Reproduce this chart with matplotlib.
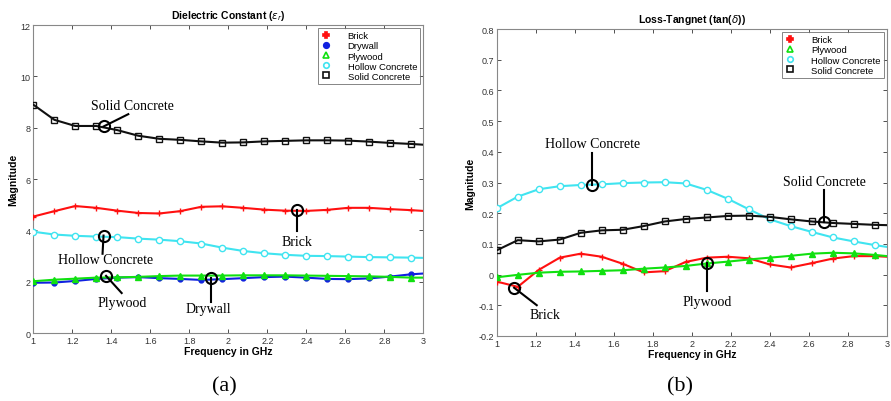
import numpy as np
import matplotlib
matplotlib.use('Agg')
import matplotlib.pyplot as plt
from matplotlib.lines import Line2D
from matplotlib.ticker import FuncFormatter, MultipleLocator

# frequency samples (GHz); last one is the axis end, no marker drawn there
freq = [1.0, 1.108, 1.215, 1.323, 1.43, 1.538, 1.646, 1.753, 1.861, 1.968,
        2.076, 2.184, 2.291, 2.399, 2.506, 2.614, 2.722, 2.829, 2.937, 3.0]

# (a) dielectric constant
eps_brick = [4.54, 4.75, 4.95, 4.88, 4.77, 4.68, 4.66, 4.75, 4.92, 4.94,
             4.88, 4.81, 4.77, 4.76, 4.80, 4.88, 4.88, 4.83, 4.79, 4.76]
eps_drywall = [1.96, 1.97, 2.03, 2.11, 2.16, 2.18, 2.14, 2.11, 2.07, 2.10,
               2.14, 2.18, 2.20, 2.16, 2.11, 2.10, 2.13, 2.20, 2.29, 2.32]
eps_plywood = [2.02, 2.08, 2.12, 2.16, 2.17, 2.19, 2.22, 2.24, 2.24, 2.24,
               2.25, 2.25, 2.25, 2.24, 2.23, 2.22, 2.21, 2.19, 2.16, 2.16]
eps_hollow = [3.95, 3.84, 3.79, 3.76, 3.74, 3.68, 3.64, 3.58, 3.49, 3.33,
              3.20, 3.11, 3.05, 3.01, 3.00, 2.98, 2.96, 2.95, 2.94, 2.93]
eps_solid = [8.90, 8.31, 8.07, 8.07, 7.91, 7.69, 7.57, 7.53, 7.47, 7.42,
             7.43, 7.47, 7.49, 7.51, 7.51, 7.50, 7.46, 7.41, 7.37, 7.34]

# (b) loss tangent
tan_brick = [-0.023, -0.040, 0.015, 0.055, 0.068, 0.058, 0.035, 0.007, 0.011, 0.041,
             0.055, 0.058, 0.053, 0.033, 0.023, 0.037, 0.052, 0.060, 0.060, 0.058]
tan_plywood = [-0.009, -0.001, 0.006, 0.009, 0.010, 0.012, 0.014, 0.019, 0.023, 0.028,
               0.036, 0.042, 0.049, 0.055, 0.061, 0.068, 0.071, 0.069, 0.064, 0.060]
tan_hollow = [0.216, 0.254, 0.278, 0.288, 0.292, 0.294, 0.298, 0.300, 0.301, 0.297,
              0.276, 0.247, 0.213, 0.180, 0.158, 0.139, 0.121, 0.108, 0.096, 0.090]
tan_solid = [0.079, 0.112, 0.108, 0.114, 0.136, 0.144, 0.146, 0.158, 0.173, 0.181,
             0.186, 0.191, 0.192, 0.188, 0.180, 0.173, 0.168, 0.165, 0.162, 0.161]

RED, BLUE, GREEN, CYAN, BLACK = '#ff1010', '#1020e0', '#10e010', '#40e4f0', '#101010'
STYLE = {
    'Brick': dict(color=RED, marker='+', mfc=RED, ms=5),
    'Drywall': dict(color=BLUE, marker='o', mfc=BLUE, ms=3.5),
    'Plywood': dict(color=GREEN, marker='^', mfc=GREEN, ms=4),
    'Hollow Concrete': dict(color=CYAN, marker='o', mfc='white', ms=4.5),
    'Solid Concrete': dict(color=BLACK, marker='s', mfc='none', ms=4),
}
LEG_STYLE = {
    'Brick': dict(marker='P', color=RED, mfc=RED),
    'Drywall': dict(marker='o', color=BLUE, mfc=BLUE),
    'Plywood': dict(marker='^', color=GREEN, mfc='none'),
    'Hollow Concrete': dict(marker='o', color=CYAN, mfc='none'),
    'Solid Concrete': dict(marker='s', color=BLACK, mfc='none'),
}

SERIF = 'Liberation Serif'
SANS = 'Liberation Sans'
fmt = FuncFormatter(lambda v, p: '%g' % round(v, 3))


def draw(ax, series, title, ylim, ystep):
    for name, vals in series:
        st = STYLE[name]
        ax.plot(freq, vals, color=st['color'], lw=1.5, marker=st['marker'],
                mfc=st['mfc'], mec=st['color'], ms=st['ms'], mew=1.0,
                markevery=list(range(len(freq) - 1)), zorder=3)
    ax.set_xlim(1, 3)
    ax.set_ylim(*ylim)
    ax.xaxis.set_major_locator(MultipleLocator(0.2))
    ax.yaxis.set_major_locator(MultipleLocator(ystep))
    ax.xaxis.set_major_formatter(fmt)
    ax.yaxis.set_major_formatter(fmt)
    ax.tick_params(direction='in', top=True, right=True, length=3, width=0.6,
                   labelsize=6.5, pad=2, colors='#333333')
    for lab in ax.get_xticklabels() + ax.get_yticklabels():
        lab.set_fontfamily(SANS)
    for s in ax.spines.values():
        s.set_color('#888888')
        s.set_linewidth(0.8)
    ax.set_title(title, fontsize=7.5, fontweight='bold', family=SANS, pad=5)
    ax.set_xlabel('Frequency in GHz', fontsize=7.5, fontweight='bold', family=SANS, labelpad=1)
    ax.set_ylabel('Magnitude', fontsize=7.5, fontweight='bold', family=SANS, labelpad=2)
    handles = [Line2D([], [], linestyle='none', ms=4, mew=1.2, mec=LEG_STYLE[n]['color'],
                      marker=LEG_STYLE[n]['marker'], mfc=LEG_STYLE[n]['mfc'], label=n)
               for n, _ in series]
    leg = ax.legend(handles=handles, loc='upper right', prop={'family': SANS, 'size': 6.8},
                    frameon=True, fancybox=False, borderpad=0.35, labelspacing=0.12,
                    handletextpad=1.8, handlelength=1.0, borderaxespad=0.3)
    leg.get_frame().set_edgecolor('#666666')
    leg.get_frame().set_linewidth(0.7)


def note(ax, text, circ, line_end, text_pos):
    ax.plot([circ[0], line_end[0]], [circ[1], line_end[1]], color='black', lw=1.5, zorder=4)
    ax.plot([circ[0]], [circ[1]], marker='o', ms=8, mfc='none', mec='black', mew=1.5, zorder=5)
    ax.text(text_pos[0], text_pos[1], text, family=SERIF, fontsize=10,
            ha='center', va='center', zorder=6)


fig = plt.figure(figsize=(8.91, 4.02), dpi=100)
ax1 = fig.add_axes([0.0374, 0.169, 0.4377, 0.766])
ax2 = fig.add_axes([0.5575, 0.162, 0.438, 0.763])

draw(ax1, [('Brick', eps_brick), ('Drywall', eps_drywall), ('Plywood', eps_plywood),
           ('Hollow Concrete', eps_hollow), ('Solid Concrete', eps_solid)],
     r'Dielectric Constant ($\epsilon_r$)', (0, 12), 2)
draw(ax2, [('Brick', tan_brick), ('Plywood', tan_plywood),
           ('Hollow Concrete', tan_hollow), ('Solid Concrete', tan_solid)],
     r'Loss-Tangnet (tan($\delta$))', (-0.2, 0.8), 0.1)

note(ax1, 'Solid Concrete', (1.36, 8.05), (1.487, 8.53), (1.51, 8.88))
note(ax1, 'Brick', (2.35, 4.80), (2.35, 3.99), (2.35, 3.56))
note(ax1, 'Hollow Concrete', (1.36, 3.80), (1.355, 3.09), (1.368, 2.85))
note(ax1, 'Plywood', (1.373, 2.23), (1.453, 1.56), (1.458, 1.18))
note(ax1, 'Drywall', (1.913, 2.14), (1.913, 1.21), (1.897, 0.95))

note(ax2, 'Hollow Concrete', (1.49, 0.293), (1.49, 0.396), (1.49, 0.428))
note(ax2, 'Solid Concrete', (2.678, 0.171), (2.678, 0.276), (2.678, 0.302))
note(ax2, 'Brick', (1.089, -0.043), (1.205, -0.100), (1.248, -0.129))
note(ax2, 'Plywood', (2.077, 0.039), (2.077, -0.053), (2.077, -0.089))

fig.text(0.2515, 0.038, '(a)', family=SERIF, fontsize=16, ha='center', va='center')
fig.text(0.7635, 0.038, '(b)', family=SERIF, fontsize=16, ha='center', va='center')

fig.savefig('out.png', dpi=100, facecolor='white')
